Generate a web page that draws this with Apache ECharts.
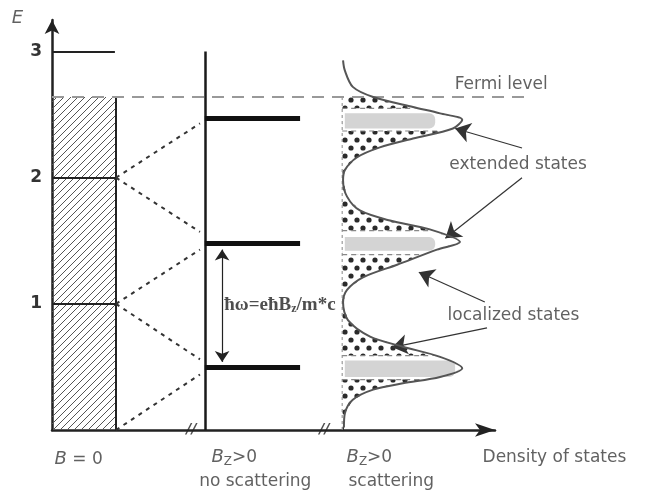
<!DOCTYPE html>
<html>
<head>
<meta charset="utf-8">
<script src="https://cdn.jsdelivr.net/npm/echarts@6/dist/echarts.min.js"></script>
<style>
html, body { margin: 0; background: #fff; }
#main { width: 649px; height: 492px; }
</style>
</head>
<body>
<div id="main"></div>
<script>
// energies (units of the level spacing) and density-of-states positions
var fermiE = 2.64;
var b0Levels = [1, 2];
var b0TopLevel = 3;
var landauE = [2.47, 1.48, 0.50];
var fanLines = [[2, 2.43], [2, 1.57], [1, 1.43], [1, 0.56], [0, 0.44]];

// DOS curve for B_z>0 with scattering: [dos, E]
var dosCurve = [
	[65.7, 2.93], [66.1, 2.85], [67.9, 2.72], [72.5, 2.64], [81.5, 2.56], [87.6, 2.51], [92.6, 2.46],
	[90.5, 2.39], [81.5, 2.31], [74.0, 2.24], [68.8, 2.16], [66.1, 2.06], [65.7, 1.98], [66.6, 1.85],
	[69.5, 1.74], [76.3, 1.66], [85.3, 1.59], [92.1, 1.49], [86.9, 1.43], [77.9, 1.31], [70.2, 1.21],
	[66.6, 1.11], [65.7, 1.01], [66.8, 0.87], [71.8, 0.74], [79.2, 0.66], [87.6, 0.58], [92.6, 0.49],
	[87.6, 0.42], [79.2, 0.37], [72.5, 0.32], [67.9, 0.24], [66.1, 0.13], [65.9, 0.02]
];
var bandE = [[2.55, 2.37], [1.58, 1.39], [0.59, 0.40]];   // undotted band round each peak
var grayE = [[2.51, 2.39], [1.53, 1.42], [0.55, 0.42]];   // extended states
var grayEnd = [86.5, 86.5, 91];

var arrowLines = [
	[[106.1, 2.235], [91.0, 2.39]],
	[[106.1, 2.0], [88.8, 1.52]],
	[[97.7, 1.015], [82.8, 1.25]],
	[[98.2, 0.81], [76.8, 0.655]]
];
var spacingArrow = [[38.4, 1.43], [38.4, 0.54]];

var noteText = ['{i|E}', 'Fermi level', 'extended states', 'localized states',
	'{f|ħω=eħB}{fs|z}{f|/m*c}', '{i|B} = 0', '{i|B}{s|Z}{n|>0}', 'no scattering',
	'{i|B}{s|Z}{n|>0}', 'scattering', 'Density of states', '{sl|//}', '{sl|//}'];
var noteX = [-7.7, 91.0, 89.8, 89.4, 39.0, 0.7, 36.1, 46.0, 66.6, 76.7, 97.3, 31.6, 61.6];
var noteE = [3.26, 2.735, 2.10, 0.904, 0.99, -0.238, -0.222, -0.41, -0.222, -0.41, -0.222, 0, 0];
var noteAlign = ['center', 'left', 'left', 'left', 'left', 'left', 'left', 'center', 'left', 'center', 'left', 'center', 'center'];

// column geometry in x units
var b0Right = 14.45, b0TopEnd = 14.2, col2X = 34.5, barEnd = 56, fanEnd = 33.4, dosBase = 65.5, fermiEnd = 106.8;

function makeHatch() {
	var c = document.createElement('canvas');
	c.width = 7; c.height = 7;
	var g = c.getContext('2d');
	g.strokeStyle = '#555';
	g.lineWidth = 1;
	g.beginPath();
	g.moveTo(-1, 8); g.lineTo(8, -1);
	g.moveTo(-1, 1); g.lineTo(1, -1);
	g.moveTo(6, 8); g.lineTo(8, 6);
	g.stroke();
	return c;
}
function makeDots() {
	var c = document.createElement('canvas');
	c.width = 12; c.height = 16;
	var g = c.getContext('2d');
	g.fillStyle = '#2a2a2a';
	g.beginPath(); g.arc(3, 4, 2.6, 0, Math.PI * 2); g.fill();
	g.beginPath(); g.arc(9, 12, 2.6, 0, Math.PI * 2); g.fill();
	return c;
}
var hatchFill = { image: makeHatch(), repeat: 'repeat' };
var dotFill = { image: makeDots(), repeat: 'repeat' };

// x of the curve at energy e (curve E decreases monotonically)
function curveX(e) {
	for (var i = 0; i < dosCurve.length - 1; i++) {
		var a = dosCurve[i], b = dosCurve[i + 1];
		if (a[1] >= e && e >= b[1]) {
			return a[0] + (b[0] - a[0]) * (a[1] - e) / (a[1] - b[1]);
		}
	}
	return dosCurve[dosCurve.length - 1][0];
}
// region between base line and curve, for top >= E >= bot
function slab(top, bot, base) {
	var pts = [[base, top], [curveX(top), top]];
	dosCurve.forEach(function (p) {
		if (p[1] < top && p[1] > bot) pts.push([p[0], p[1]]);
	});
	pts.push([curveX(bot), bot], [base, bot]);
	return pts;
}

var solid = [];
b0Levels.forEach(function (e) {
	solid.push({ coords: [[0, e], [b0Right, e]], lineStyle: { width: 2, color: '#222' } });
});
solid.push({ coords: [[0, b0TopLevel], [b0TopEnd, b0TopLevel]], lineStyle: { width: 2, color: '#222' } });
solid.push({ coords: [[b0Right, 0], [b0Right, fermiE]], lineStyle: { width: 2, color: '#222' } });
solid.push({ coords: [[col2X, 0], [col2X, b0TopLevel]], lineStyle: { width: 2.5, color: '#1a1a1a' } });
landauE.forEach(function (e) {
	solid.push({ coords: [[col2X, e], [barEnd, e]], lineStyle: { width: 5, color: '#111' } });
});

var fans = fanLines.map(function (f) {
	return { coords: [[b0Right, f[0]], [fanEnd, f[1]]] };
});

var notes = noteText.map(function (t, i) {
	return {
		value: [noteX[i], noteE[i]],
		label: { formatter: t, align: noteAlign[i] }
	};
});

var chart = echarts.init(document.getElementById('main'));
chart.setOption({
	animation: false,
	backgroundColor: '#fff',
	grid: { left: 52, right: 154, top: 20, bottom: 62 },
	xAxis: {
		type: 'value', min: 0, max: 100,
		axisLine: { lineStyle: { color: '#222', width: 2.5 }, symbol: ['none', 'arrow'], symbolSize: [10, 20] },
		axisTick: { show: false },
		axisLabel: { show: false },
		splitLine: { show: false }
	},
	yAxis: {
		type: 'value', min: 0, max: 3.25, interval: 1,
		axisLine: { show: true, lineStyle: { color: '#222', width: 2.5 }, symbol: ['none', 'arrow'], symbolSize: [11, 14] },
		axisTick: { show: false },
		splitLine: { show: false },
		axisLabel: {
			formatter: function (v) { return (v > 0 && v <= 3) ? String(v) : ''; },
			fontSize: 17, fontWeight: 'bold', color: '#333', margin: 10, fontFamily: 'DejaVu Sans'
		}
	},
	series: [
		{
			// B = 0 : filled states up to the Fermi level
			type: 'custom',
			data: [[0, 0]],
			renderItem: function (params, api) {
				var p0 = api.coord([0, fermiE]);
				var p1 = api.coord([b0Right, 0]);
				return {
					type: 'rect',
					shape: { x: p0[0], y: p0[1], width: p1[0] - p0[0], height: p1[1] - p0[1] },
					style: { fill: hatchFill }
				};
			}
		},
		{
			type: 'lines',
			coordinateSystem: 'cartesian2d',
			clip: false,
			lineStyle: { opacity: 1 },
			data: solid
		},
		{
			type: 'lines',
			coordinateSystem: 'cartesian2d',
			clip: false,
			lineStyle: { color: '#333', width: 2, type: [4, 5], opacity: 1 },
			data: fans
		},
		{
			// occupied DOS with scattering
			type: 'custom',
			data: [[0, 0]],
			clip: false,
			renderItem: function (params, api) {
				function poly(pts) { return pts.map(function (p) { return api.coord(p); }); }
				var kids = [];
				kids.push({ type: 'polygon', shape: { points: poly(slab(fermiE, 0, dosBase)) }, style: { fill: dotFill } });
				bandE.forEach(function (b) {
					kids.push({ type: 'polygon', shape: { points: poly(slab(b[0], b[1], dosBase)) }, style: { fill: '#fff' } });
					[b[0], b[1]].forEach(function (e) {
						kids.push({
							type: 'polyline',
							shape: { points: poly([[dosBase, e], [curveX(e) - 1, e]]) },
							style: { stroke: '#888', lineWidth: 1.2, lineDash: [5, 4], fill: null }
						});
					});
				});
				grayE.forEach(function (g, k) {
					var a = api.coord([dosBase + 0.6, g[0]]);
					var b = api.coord([grayEnd[k], g[1]]);
					kids.push({
						type: 'rect',
						shape: { x: a[0], y: a[1], width: b[0] - a[0], height: b[1] - a[1], r: [0, 6, 6, 0] },
						style: { fill: '#d4d4d4' }
					});
				});
				kids.push({
					type: 'polyline',
					shape: { points: poly([[dosBase, 0], [dosBase, fermiE]]) },
					style: { stroke: '#888', lineWidth: 1, lineDash: [3, 3], fill: null }
				});
				return { type: 'group', children: kids };
			}
		},
		{
			type: 'lines',
			coordinateSystem: 'cartesian2d',
			clip: false,
			lineStyle: { color: '#999', width: 2, type: [12, 8], opacity: 1 },
			data: [{ coords: [[0, fermiE], [fermiEnd, fermiE]] }]
		},
		{
			type: 'line',
			data: dosCurve,
			smooth: 0.3,
			showSymbol: false,
			clip: false,
			lineStyle: { color: '#555', width: 2 }
		},
		{
			type: 'lines',
			coordinateSystem: 'cartesian2d',
			clip: false,
			symbol: ['none', 'arrow'],
			symbolSize: [0, 15],
			lineStyle: { color: '#333', width: 1.2, opacity: 1 },
			data: arrowLines.map(function (a) { return { coords: a }; })
		},
		{
			type: 'lines',
			coordinateSystem: 'cartesian2d',
			clip: false,
			symbol: ['arrow', 'arrow'],
			symbolSize: [11, 11],
			lineStyle: { color: '#222', width: 1.2, opacity: 1 },
			data: [{ coords: spacingArrow }]
		},
		{
			type: 'scatter',
			clip: false,
			symbolSize: 1,
			itemStyle: { color: 'transparent' },
			label: {
				show: true,
				position: [0, 0],
				verticalAlign: 'middle',
				fontFamily: 'DejaVu Sans',
				fontSize: 17,
				color: '#3a3a3a',
				rich: {
					i: { fontStyle: 'italic', fontSize: 18, color: '#3a3a3a', fontFamily: 'DejaVu Sans', lineHeight: 20 },
					s: { fontSize: 12, color: '#3a3a3a', fontFamily: 'DejaVu Sans', verticalAlign: 'bottom', lineHeight: 12 },
					n: { fontSize: 17, color: '#3a3a3a', fontFamily: 'DejaVu Sans', lineHeight: 20 },
					f: { fontFamily: 'Liberation Serif', fontWeight: 'bold', fontSize: 19, color: '#222', lineHeight: 20 },
					fs: { fontFamily: 'Liberation Serif', fontWeight: 'bold', fontSize: 12, color: '#222', verticalAlign: 'bottom', lineHeight: 13 },
					sl: { fontStyle: 'italic', fontWeight: 'bold', fontSize: 14, color: '#222', fontFamily: 'DejaVu Sans' }
				}
			},
			data: notes
		}
	]
});
</script>
</body>
</html>
